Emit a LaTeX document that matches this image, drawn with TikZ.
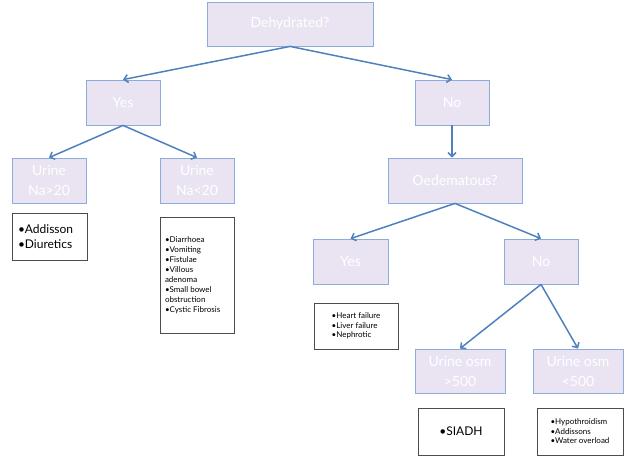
\documentclass[tikz,border=0pt]{standalone}
\usepackage{fontspec}
\setmainfont{Lato}
\usetikzlibrary{arrows.meta,shadows}
\colorlet{boxfill}{rgb,255:red,234;green,228;blue,242}
\colorlet{boxline}{rgb,255:red,140;green,172;blue,222}
\colorlet{arrcol}{rgb,255:red,79;green,129;blue,189}
\tikzstyle{qbox}=[draw=boxline,fill=boxfill,line width=0.8pt,text=white,
  inner sep=0pt,minimum height=45pt,align=center,font=\fontsize{14}{20}\selectfont,
  drop shadow={opacity=0.15,shadow xshift=0.6pt,shadow yshift=-1pt}]
\tikzstyle{lbox}=[draw=black!70,fill=white,line width=0.6pt,inner sep=0pt,align=left]
\tikzstyle{arr}=[-{Straight Barb[length=4pt,width=8pt]},arrcol,line width=1.5pt]

\begin{document}
\begin{tikzpicture}[x=1pt,y=-1pt]
  \useasboundingbox (0,0) rectangle (640,463);
  % Question and answer boxes
  \node[qbox,minimum width=166pt,minimum height=44pt] (dehyd) at (290,24) {Dehydrated?};
  \node[qbox,minimum width=74pt] (yes) at (123,102.5) {Yes};
  \node[qbox,minimum width=74pt] (no) at (452,102.5) {No};
  \node[qbox,minimum width=74pt] (nahigh) at (49,180.5) {Urine\\Na>20};
  \node[qbox,minimum width=74pt] (nalow) at (197,180.5) {Urine\\Na<20};
  \node[qbox,minimum width=134pt] (oed) at (455,180.5) {Oedematous?};
  \node[qbox,minimum width=75pt] (yestwo) at (350.5,261.5) {Yes};
  \node[qbox,minimum width=74pt] (notwo) at (541,261.5) {No};
  \node[qbox,minimum width=90pt,minimum height=44pt] (osmhigh) at (460,371) {Urine osm\\>500};
  \node[qbox,minimum width=90pt,minimum height=44pt] (osmlow) at (578,371) {Urine osm\\<500};
  % Cause lists
  \node[lbox,minimum width=75pt,minimum height=47pt,font=\fontsize{12}{15}\selectfont]
    (addisson) at (49.5,236.5) {\makebox[63pt][l]{•Addisson}\\•Diuretics};
  \node[lbox,minimum width=74pt,minimum height=116pt,font=\fontsize{8}{10}\selectfont]
    (diarr) at (197,275) {\makebox[64pt][l]{•Diarrhoea}\\•Vomiting\\•Fistulae\\•Villous\\adenoma\\•Small bowel\\obstruction\\•Cystic Fibrosis};
  \node[lbox,minimum width=84pt,minimum height=46pt,font=\fontsize{8}{9.5}\selectfont]
    (heart) at (356,326) {•Heart failure\\•Liver failure\\•Nephrotic};
  \node[lbox,minimum width=86pt,minimum height=47pt,font=\fontsize{12}{15}\selectfont]
    (siadh) at (461,431.5) {•SIADH};
  \node[lbox,minimum width=86pt,minimum height=47pt,font=\fontsize{8}{9.5}\selectfont]
    (hypo) at (580,431.5) {•Hypothroidism\\•Addissons\\•Water overload};
  % Arrows
  \draw[arr] (dehyd.south) -- (yes.north);
  \draw[arr] (dehyd.south) -- (no.north);
  \draw[arr] (yes.south) -- (nahigh.north);
  \draw[arr] (yes.south) -- (nalow.north);
  \draw[arr] (no.south) -- (no.south |- oed.north);
  \draw[arr] (oed.south) -- (yestwo.north);
  \draw[arr] (oed.south) -- (notwo.north);
  \draw[arr] (notwo.south) -- (osmhigh.north);
  \draw[arr] (notwo.south) -- (osmlow.north);
\end{tikzpicture}
\end{document}
